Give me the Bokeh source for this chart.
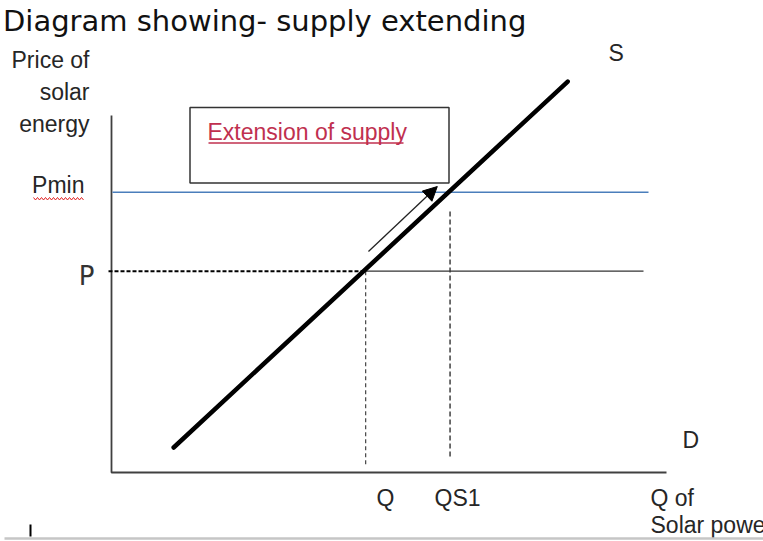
import numpy as np
from bokeh.plotting import figure
from bokeh.models import Range1d, Arrow, NormalHead
from bokeh.core.properties import value
from bokeh.embed import file_html
from bokeh.resources import INLINE

# ---------------- data (economic units) ----------------
quantity_labels = ["Q", "QS1"]
quantity_values = [45.8, 61.0]
price_labels = ["P", "Pmin"]
price_values = [56.4, 78.5]
supply_q = [11.2, 82.2]
supply_p = [7.0, 109.5]
arrow_q = [46.3, 58.7]
arrow_p = [61.9, 80.1]
axis_q_max = 100
axis_p_max = 100

# ---------------- layout ----------------
W, H = 763, 541
KX, KY = 5.55, 3.57          # px per unit
OX, OY = 111, 472            # screen position of origin


def fx(sx):
    return (sx - OX) / KX


def fy(sy):
    return (OY - sy) / KY


p = figure(width=W, height=H, output_backend="svg", toolbar_location=None,
           x_range=Range1d(fx(0), fx(W)), y_range=Range1d(fy(H), fy(0)),
           min_border=0, outline_line_color=None, background_fill_color="white",
           border_fill_color="white")
p.axis.visible = False
p.grid.visible = False

SANS = value("Liberation Sans")
FS = "23px"
DARK = "#262626"
q_val = dict(zip(quantity_labels, quantity_values))
p_val = dict(zip(price_labels, price_values))

# axes
p.line([0, 0, axis_q_max], [axis_p_max, 0, 0], line_color="#404040", line_width=1.8)

# Pmin line (blue)
p.segment(x0=[fx(112)], y0=[p_val["Pmin"]], x1=[fx(648)], y1=[p_val["Pmin"]],
          line_color="#4a7ebb", line_width=1.5)

# P line: dashed to the left of Q, solid to the right
p.segment(x0=[fx(108)], y0=[p_val["P"]], x1=[q_val["Q"] - 0.5], y1=[p_val["P"]],
          line_color="black", line_width=2, line_dash="4 2")
p.segment(x0=[q_val["Q"] - 0.5], y0=[p_val["P"]], x1=[fx(643)], y1=[p_val["P"]],
          line_color="#333333", line_width=1.4)

# vertical dashed drop lines
p.segment(x0=[q_val["Q"]], y0=[p_val["P"]], x1=[q_val["Q"]], y1=[fy(465)],
          line_color="#333333", line_width=1.1, line_dash="4 3")
p.segment(x0=[q_val["QS1"]], y0=[fy(211)], x1=[q_val["QS1"]], y1=[fy(458)],
          line_color="#333333", line_width=1.4, line_dash="5 3")

# supply curve
p.line(supply_q, supply_p, line_color="black", line_width=4.5, line_cap="round")

# arrow (extension along supply)
p.add_layout(Arrow(end=NormalHead(size=14, fill_color="black", line_color="black", line_width=1),
                   x_start=arrow_q[0], y_start=arrow_p[0], x_end=arrow_q[1], y_end=arrow_p[1],
                   line_color="#222222", line_width=1.3))

# annotation box
p.quad(left=[fx(189.5)], right=[fx(448.5)], top=[fy(107)], bottom=[fy(182.5)],
       fill_color="white", line_color="#333333", line_width=1.5)
RED = "#c0304f"
p.text(x=[fx(207)], y=[fy(131)], text=["Extension of supply"], text_font=SANS,
       text_font_size=FS, text_color=RED, text_baseline="middle")
p.segment(x0=[fx(208)], y0=[fy(142.5)], x1=[fx(403)], y1=[fy(142.5)],
          line_color=RED, line_width=1.3)

# title
p.text(x=[fx(2.5)], y=[fy(20)], text=["Diagram showing- supply extending"],
       text_font=value("DejaVu Sans"), text_font_size="29px", text_color="#111111",
       text_baseline="middle")

# y-axis title
p.text(x=[fx(89)] * 3, y=[fy(59.5), fy(91.5), fy(123.5)], text=["Price of", "solar", "energy"],
       text_font=SANS, text_font_size=FS, text_color=DARK,
       text_align="right", text_baseline="middle")

# price labels
p.text(x=[fx(84)], y=[fy(184.5)], text=["Pmin"], text_font=SANS, text_font_size=FS,
       text_color=DARK, text_align="right", text_baseline="middle")
p.text(x=[fx(94)], y=[fy(275)], text=["P"], text_font=value("DejaVu Sans"),
       text_font_size="26px", text_color="#333333", text_align="right",
       text_baseline="middle")

# spell-check squiggle under Pmin (decoration)
sq_x = np.arange(33, 84, 2.0)
sq_y = np.where(np.arange(len(sq_x)) % 2 == 0, 197.0, 199.5)
p.line([fx(v) for v in sq_x], [fy(v) for v in sq_y], line_color="#e02020", line_width=1)

# curve labels
p.text(x=[fx(608)], y=[fy(52.5)], text=["S"], text_font=SANS, text_font_size=FS,
       text_color=DARK, text_baseline="middle")
p.text(x=[fx(682)], y=[fy(439)], text=["D"], text_font=SANS, text_font_size=FS,
       text_color=DARK, text_baseline="middle")

# quantity labels
p.text(x=[fx(376), fx(434)], y=[fy(497.5)] * 2, text=quantity_labels, text_font=SANS,
       text_font_size=FS, text_color=DARK, text_baseline="middle")
p.text(x=[fx(650)] * 2, y=[fy(497.5), fy(524.5)], text=["Q of", "Solar power"],
       text_font=SANS, text_font_size=FS, text_color=DARK, text_baseline="middle")

# page artefacts at bottom
p.segment(x0=[fx(4)], y0=[fy(538)], x1=[fx(763)], y1=[fy(538)],
          line_color="#c6c6c6", line_width=2.5)
p.segment(x0=[fx(30)], y0=[fy(524)], x1=[fx(30)], y1=[fy(536)],
          line_color="black", line_width=2)

open("out.html", "w").write(file_html(p, INLINE))
